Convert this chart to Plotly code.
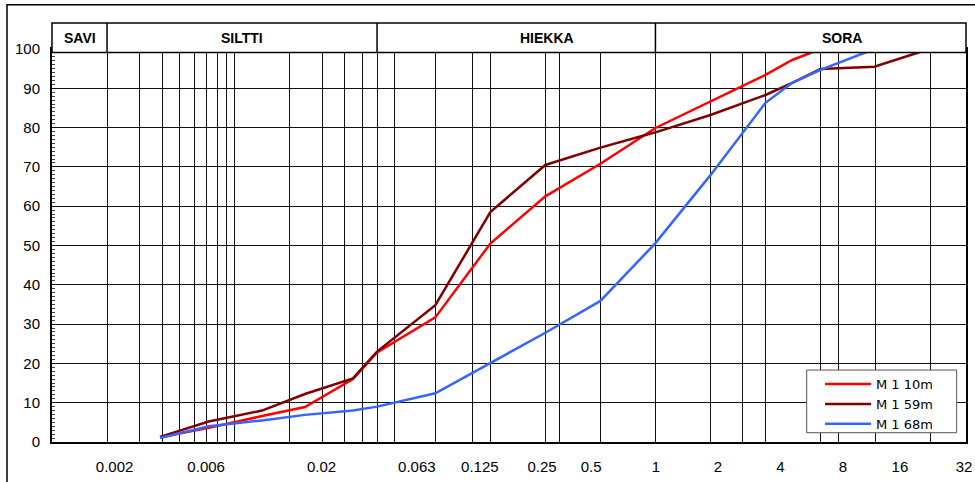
import plotly.graph_objects as go

# ---- data (grain size in mm, passing %) ----
sizes_10m = [0.0039, 0.0072, 0.0141, 0.0242, 0.0443, 0.06, 0.125, 0.25, 0.5, 1, 2, 4, 8, 11.2, 16]
pass_10m = [1.2, 3.6, 6.6, 8.9, 16.0, 22.8, 31.7, 50.5, 62.5, 70.8, 79.9, 86.6, 93.4, 97.2, 100]

sizes_59m = [0.0039, 0.0072, 0.0141, 0.0242, 0.0443, 0.06, 0.125, 0.25, 0.5, 1, 2, 4, 8, 11.2, 16, 31.5, 63]
pass_59m = [1.3, 5.2, 8.0, 12.2, 16.2, 23.0, 34.8, 58.5, 70.5, 74.9, 78.8, 83.2, 88.3, 91.4, 94.9, 95.5, 100]

sizes_68m = [0.0039, 0.0072, 0.0141, 0.0242, 0.0443, 0.06, 0.125, 0.25, 0.5, 1, 2, 4, 8, 11.2, 16, 31.5]
pass_68m = [1.0, 4.0, 5.5, 6.9, 8.0, 9.0, 12.4, 20.0, 27.8, 35.9, 50.6, 67.9, 86.3, 91.4, 94.7, 100]

series_names = ["M 1 10m", "M 1 59m", "M 1 68m"]
series_colors = ["#FF0000", "#800000", "#3366FF"]

# x tick labels as printed on the chart and where they sit (mm)
tick_labels = ["0.002", "0.006", "0.02", "0.063", "0.125", "0.25", "0.5", "1", "2", "4", "8", "16", "32"]
tick_label_pos = [0.0022, 0.00697, 0.0298, 0.099, 0.219, 0.479, 0.889, 2.01, 4.40, 9.67, 21.2, 43.5, 97.5]

# vertical grid lines (mm)
grid_sizes = [0.002, 0.003, 0.004, 0.005, 0.006, 0.007, 0.008, 0.009, 0.01, 0.02, 0.03, 0.04, 0.05,
              0.06, 0.075, 0.125, 0.2, 0.25, 0.5, 0.6, 1, 2, 4, 6, 8, 16, 20, 32, 64]

# soil class header
class_names = ["SAVI", "SILTTI", "HIEKKA", "SORA"]
class_bounds = [0.002, 0.06, 2]
class_label_px = [80, 242, 547, 842]

FONT = "Liberation Sans, Arial, sans-serif"

fig = go.Figure()
for xs, ys, nm, col in zip([sizes_10m, sizes_59m, sizes_68m], [pass_10m, pass_59m, pass_68m],
                           series_names, series_colors):
    fig.add_trace(go.Scatter(x=xs, y=ys, mode="lines", name=nm,
                             line=dict(color=col, width=2.5)))

W, H = 975, 482
# plot area in screen pixels: left 52, right 966, top 48.7, bottom 442
L = 52
R = W - 966
T = 48.7
B = H - 442
ph = H - T - B
pw = W - L - R


def py(px):
    return (H - B - px) / ph


def pxp(px):
    return (px - L) / pw


shapes = []
# outer frame
shapes.append(dict(type="rect", xref="paper", yref="paper", x0=pxp(7), x1=1.1, y0=-0.3, y1=py(4.3),
                   line=dict(color="black", width=1.5), fillcolor="rgba(0,0,0,0)", layer="above"))
# header box
shapes.append(dict(type="rect", xref="paper", yref="paper", x0=0, x1=1, y0=py(52.3), y1=py(22.7),
                   line=dict(color="black", width=1.5), fillcolor="white", layer="above"))
for b in class_bounds:
    shapes.append(dict(type="line", xref="x", yref="paper", x0=b, x1=b, y0=py(52.3), y1=py(22.7),
                       line=dict(color="black", width=1.5), layer="above"))
# legend box
shapes.append(dict(type="rect", xref="paper", yref="paper", x0=pxp(806.7), x1=pxp(956.7),
                   y0=py(432.7), y1=py(370), line=dict(color="#555", width=1), fillcolor="white",
                   layer="above"))

annotations = []
for nm, lx in zip(class_names, class_label_px):
    annotations.append(dict(xref="paper", yref="paper", x=pxp(lx), y=py(37.5), text="<b>%s</b>" % nm,
                            showarrow=False, font=dict(family=FONT, size=14, color="black"),
                            xanchor="center", yanchor="middle"))

fig.update_layout(
    width=W, height=H,
    margin=dict(l=L, r=R, t=T, b=B, pad=0, autoexpand=False),
    paper_bgcolor="white", plot_bgcolor="white",
    font=dict(family=FONT, size=15, color="black"),
    shapes=shapes, annotations=annotations,
    showlegend=True,
    legend=dict(x=pxp(820), y=py(369), xanchor="left", yanchor="top",
                bgcolor="rgba(0,0,0,0)", borderwidth=0,
                font=dict(family="DejaVu Sans, sans-serif", size=13, color="black"),
                itemwidth=46, tracegroupgap=0),
)

fig.update_xaxes(
    type="log", range=[-3, 2], automargin=False,
    tickmode="array", tickvals=tick_label_pos, ticktext=tick_labels,
    ticks="", showgrid=False, ticklabelstandoff=10,
    tickfont=dict(family=FONT, size=15, color="black"),
    showline=True, linecolor="black", linewidth=2, mirror=True, zeroline=False,
    minor=dict(tickmode="array", tickvals=grid_sizes, showgrid=True, gridcolor="#111",
               gridwidth=1, ticks=""),
)
fig.update_yaxes(
    range=[0, 100], tickmode="linear", tick0=0, dtick=10, automargin=False,
    showgrid=True, gridcolor="#111", gridwidth=1, ticks="", ticklabelstandoff=7,
    tickfont=dict(family=FONT, size=15, color="black"),
    showline=True, linecolor="black", linewidth=2, mirror=True, zeroline=False,
    minor=dict(dtick=1, ticks="inside", ticklen=3, tickcolor="#444", tickwidth=1, showgrid=False),
)

fig.write_html("out.html", config={"displayModeBar": False},
               post_script="document.body.style.margin='0';document.body.style.overflow='hidden';")
